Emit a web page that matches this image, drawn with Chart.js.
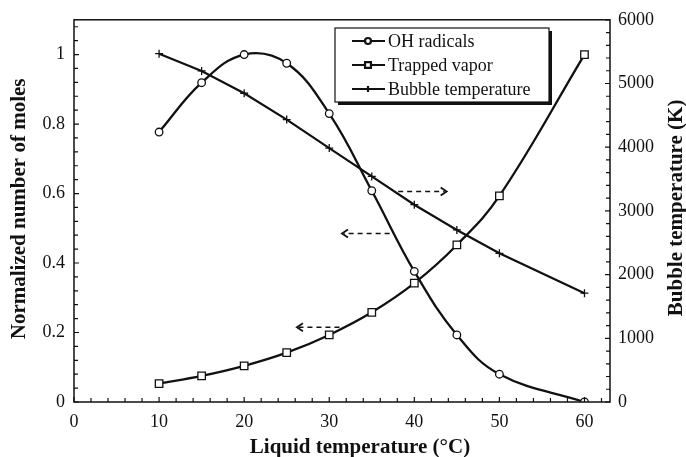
<!DOCTYPE html>
<html>
<head>
<meta charset="utf-8">
<script src="https://cdn.jsdelivr.net/npm/chart.js@4/dist/chart.umd.min.js"></script>
<style>
  html, body { margin: 0; padding: 0; background: #fff; }
  #wrap { width: 686px; height: 457px; }
</style>
</head>
<body>
<div id="wrap"><canvas id="chart" width="686" height="457"></canvas></div>
<script>
// Liquid temperature (°C)
const liquidTemp = [10, 15, 20, 25, 30, 35, 40, 45, 50, 60];
// normalized number of moles (left axis)
const ohRadicals = [0.777, 0.919, 1.0, 0.975, 0.830, 0.608, 0.376, 0.193, 0.080, 0.0];
const trappedVapor = [0.053, 0.075, 0.104, 0.142, 0.193, 0.258, 0.342, 0.452, 0.593, 1.0];
// bubble temperature in K (right axis)
const bubbleTemp = [5468, 5197, 4847, 4434, 3986, 3541, 3097, 2701, 2334, 1708];

const seriesLabels = ['OH radicals', 'Trapped vapor', 'Bubble temperature'];
const xTitle = 'Liquid temperature (\u00B0C)';
const yTitle = 'Normalized number of moles';
const y1Title = 'Bubble temperature (K)';

// dashed arrows pointing each curve to its axis: [fromX, toX, atY(left axis)]
const arrows = [
  [38.1, 43.8, 0.606],
  [37.1, 31.5, 0.485],
  [31.2, 26.2, 0.215]
];

const SERIF = '"Liberation Serif", "Times New Roman", serif';
const INK = '#111';

function pts(ys) {
  return liquidTemp.map((x, i) => ({ x: x, y: ys[i] }));
}

// inward tick marks + frame
const frameTicks = {
  id: 'frameTicks',
  afterDraw(chart) {
    const { ctx, chartArea: a, scales } = chart;
    ctx.save();
    ctx.strokeStyle = INK;
    ctx.lineWidth = 1.5;
    ctx.strokeRect(a.left, a.top, a.right - a.left, a.bottom - a.top);
    ctx.lineWidth = 1.2;
    ctx.beginPath();
    // bottom axis, minor every 2
    for (let i = 0; i <= 31; i++) {
      const v = i * 2;
      const px = scales.x.getPixelForValue(v);
      const len = v % 10 === 0 ? 5 : 4;
      ctx.moveTo(px, a.bottom);
      ctx.lineTo(px, a.bottom - len);
    }
    // left axis, minor every 0.04
    for (let i = 0; i <= 27; i++) {
      const v = i * 0.04;
      const py = scales.y.getPixelForValue(v);
      const len = i % 5 === 0 ? 5 : 4;
      ctx.moveTo(a.left, py);
      ctx.lineTo(a.left + len, py);
    }
    // right axis, minor every 200
    for (let i = 0; i <= 30; i++) {
      const v = i * 200;
      const py = scales.y1.getPixelForValue(v);
      const len = i % 5 === 0 ? 5 : 4;
      ctx.moveTo(a.right, py);
      ctx.lineTo(a.right - len, py);
    }
    ctx.stroke();
    ctx.restore();
  }
};

// axis titles
const axisTitles = {
  id: 'axisTitles',
  afterDraw(chart) {
    const { ctx, chartArea: a } = chart;
    ctx.save();
    ctx.fillStyle = INK;
    ctx.font = 'bold 21px ' + SERIF;
    ctx.textAlign = 'center';
    ctx.textBaseline = 'middle';
    ctx.fillText(xTitle, 360, 448);
    const midY = (a.top + a.bottom) / 2;
    ctx.translate(20, midY - 2);
    ctx.rotate(-Math.PI / 2);
    ctx.fillText(yTitle, 0, 0);
    ctx.restore();
    ctx.save();
    ctx.fillStyle = INK;
    ctx.font = 'bold 21px ' + SERIF;
    ctx.textAlign = 'center';
    ctx.textBaseline = 'middle';
    ctx.translate(677, midY - 3);
    ctx.rotate(-Math.PI / 2);
    ctx.fillText(y1Title, 0, 0);
    ctx.restore();
  }
};

// dashed arrows
const dashArrows = {
  id: 'dashArrows',
  afterDatasetsDraw(chart) {
    const { ctx, scales } = chart;
    ctx.save();
    ctx.strokeStyle = INK;
    ctx.lineWidth = 1.5;
    arrows.forEach(([x0, x1, yv]) => {
      const px0 = scales.x.getPixelForValue(x0);
      const px1 = scales.x.getPixelForValue(x1);
      const py = scales.y.getPixelForValue(yv);
      const dir = px1 > px0 ? 1 : -1;
      ctx.setLineDash([5, 4]);
      ctx.beginPath();
      ctx.moveTo(px0, py);
      ctx.lineTo(px1 - dir * 2, py);
      ctx.stroke();
      ctx.setLineDash([]);
      ctx.lineWidth = 1.8;
      ctx.beginPath();
      ctx.moveTo(px1 - dir * 6, py - 4);
      ctx.lineTo(px1, py);
      ctx.lineTo(px1 - dir * 6, py + 4);
      ctx.stroke();
      ctx.lineWidth = 1.5;
    });
    ctx.restore();
  }
};

// boxed legend inside the plot
const boxLegend = {
  id: 'boxLegend',
  afterDraw(chart) {
    const { ctx } = chart;
    const bx = 335, by = 28, bw = 214, bh = 74;
    ctx.save();
    ctx.fillStyle = INK;
    ctx.fillRect(bx + 3, by + 3, bw, bh);
    ctx.fillStyle = '#fff';
    ctx.fillRect(bx, by, bw, bh);
    ctx.strokeStyle = INK;
    ctx.lineWidth = 1.2;
    ctx.strokeRect(bx, by, bw, bh);
    ctx.font = '18px ' + SERIF;
    ctx.textBaseline = 'middle';
    ctx.textAlign = 'left';
    chart.data.datasets.forEach((ds, i) => {
      const y = 41 + i * 24;
      ctx.strokeStyle = INK;
      ctx.lineWidth = 2.2;
      ctx.beginPath();
      ctx.moveTo(352, y);
      ctx.lineTo(385, y);
      ctx.stroke();
      ctx.fillStyle = '#fff';
      Chart.helpers.drawPoint(ctx, {
        pointStyle: ds.pointStyle,
        radius: ds.pointStyle === 'rect' ? 4.2 : 3,
        rotation: 0,
        borderWidth: 1.2
      }, 368, y);
      ctx.fillStyle = INK;
      ctx.fillText(ds.label, 388, y + 1);
    });
    ctx.restore();
  }
};

const tickFont = { family: SERIF, size: 18 };

new Chart(document.getElementById('chart'), {
  type: 'line',
  data: {
    datasets: [
      {
        label: seriesLabels[0],
        data: pts(ohRadicals),
        yAxisID: 'y',
        borderColor: INK,
        borderWidth: 2.3,
        tension: 0.4,
        pointStyle: 'circle',
        pointRadius: 3.8,
        pointBackgroundColor: '#fff',
        pointBorderColor: INK,
        pointBorderWidth: 1.3
      },
      {
        label: seriesLabels[1],
        data: pts(trappedVapor),
        yAxisID: 'y',
        borderColor: INK,
        borderWidth: 2.3,
        tension: 0.4,
        pointStyle: 'rect',
        pointRadius: 5.3,
        pointBackgroundColor: '#fff',
        pointBorderColor: INK,
        pointBorderWidth: 1.3
      },
      {
        label: seriesLabels[2],
        data: pts(bubbleTemp),
        yAxisID: 'y1',
        borderColor: INK,
        borderWidth: 2.2,
        tension: 0,
        pointStyle: 'cross',
        pointRadius: 4,
        pointBorderColor: INK,
        pointBorderWidth: 1.3
      }
    ]
  },
  options: {
    responsive: false,
    animation: false,
    layout: { padding: { top: 19, left: 0, right: 0, bottom: 0 } },
    plugins: {
      legend: { display: false },
      tooltip: { enabled: false }
    },
    scales: {
      x: {
        type: 'linear',
        min: 0,
        max: 63,
        grid: { display: false, drawTicks: false },
        border: { display: false },
        ticks: {
          stepSize: 10,
          includeBounds: false,
          padding: 9,
          color: INK,
          font: tickFont,
          maxRotation: 0
        },
        afterFit(s) { s.height = 55; }
      },
      y: {
        position: 'left',
        min: 0,
        max: 1.1,
        grid: { display: false, drawTicks: false },
        border: { display: false },
        ticks: {
          stepSize: 0.2,
          includeBounds: false,
          padding: 9,
          color: INK,
          font: tickFont,
          callback: v => String(+v.toFixed(2))
        },
        afterFit(s) { s.width = 74; }
      },
      y1: {
        position: 'right',
        min: 0,
        max: 6000,
        grid: { display: false, drawTicks: false },
        border: { display: false },
        ticks: {
          stepSize: 1000,
          padding: 8,
          color: INK,
          font: tickFont,
          callback: v => String(v)
        },
        afterFit(s) { s.width = 76; }
      }
    }
  },
  plugins: [frameTicks, dashArrows, boxLegend, axisTitles]
});
</script>
</body>
</html>
